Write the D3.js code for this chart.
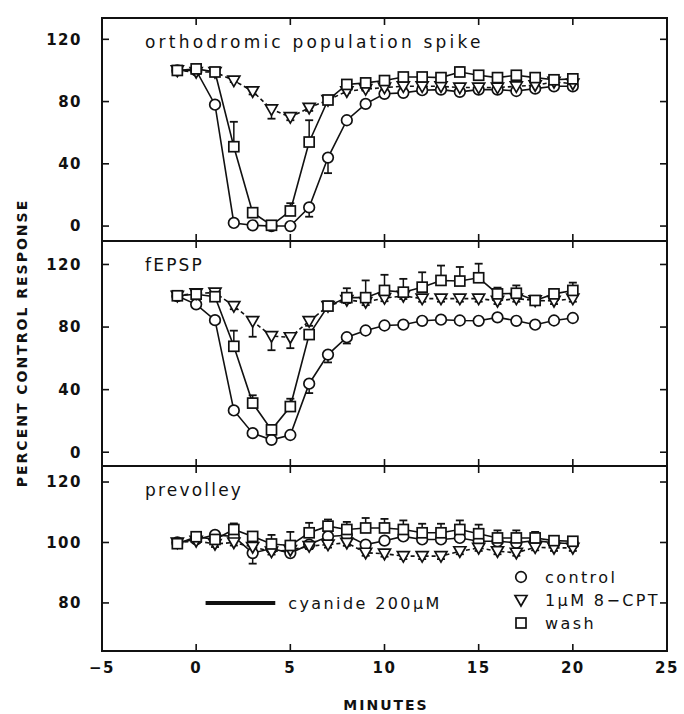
<!DOCTYPE html>
<html>
<head>
<meta charset="utf-8">
<script src="https://cdn.jsdelivr.net/npm/d3@7/dist/d3.min.js"></script>
<style>
  body { margin: 0; background: #fff; }
  text { font-family: "DejaVu Sans", sans-serif; fill: #111; }
</style>
</head>
<body>
<svg id="chart" width="684" height="714"></svg>
<script>
// time points (minutes)
const minutes = [-1, 0, 1, 2, 3, 4, 5, 6, 7, 8, 9, 10, 11, 12, 13, 14, 15, 16, 17, 18, 19, 20];
const seriesNames = ['control', '1\u03BCM 8\u2212CPT', 'wash'];

// orthodromic population spike
const spikeControl = [100, 100, 78, 2, 0.5, 0, 0, 12, 44, 68, 78.5, 85, 85.6, 87.3, 87.7, 86.2, 87.7, 87.7, 86.8, 88.3, 89.8, 89.8];
const spikeCPT     = [100, 99, 99, 93.5, 86.6, 75, 70, 76, 81, 86.6, 88, 89, 89.8, 89.8, 89.8, 89, 89, 89, 89.8, 90.5, 92.6, 91.5];
const spikeWash    = [100, 101, 99, 51, 8.6, 0.5, 9.7, 54, 81, 91, 92, 93.5, 95.8, 95.8, 95.4, 99, 96.9, 95.4, 96.9, 95.4, 94, 94.6];
const spikeControlErr = [0, 0, 1, 1, 0, 0, 0, 6, 10, 2, 1, 1, 1, 1, 1, 1, 1, 1, 1, 1, 1, 1];
const spikeCPTErr     = [0, 1, 1, 1, 2, 6, 2, 2, 1, 1, 1, 1, 1, 1, 1, 1, 1, 1, 1, 1, 1, 1];
const spikeWashErr    = [0, 1, 1, 16, 2, 1, 5, 14, 2, 2, 1, 1, 2, 2, 2, 3, 2, 2, 2, 2, 2, 2];

// fEPSP
const epspControl = [99.8, 94.5, 84.4, 26.7, 12.2, 7.9, 11, 43.8, 62.4, 73.5, 77.8, 81, 81.5, 84, 84.7, 84.2, 84, 86.2, 84, 81.5, 84.2, 85.8];
const epspCPT     = [100, 101.5, 102, 93.4, 83.8, 74.2, 73.5, 83.8, 93.4, 97.3, 96, 98.5, 99.9, 98.2, 98.2, 98.2, 98.2, 96.7, 98.2, 97, 96.7, 98.2];
const epspWash    = [100, 101, 99.4, 67.7, 31.4, 14.3, 29.2, 75.2, 93.4, 98.8, 98.8, 103.4, 102.3, 105.5, 109.8, 109.4, 111.5, 101.2, 101.6, 97, 101.2, 103.4];
const epspControlErr = [0, 1, 1, 1, 1, 1, 1, 6, 5, 4, 1, 1, 1, 1, 1, 1, 1, 1, 1, 1, 1, 1];
const epspCPTErr     = [0, 1, 2, 2, 10, 9, 7, 3, 2, 2, 2, 2, 2, 2, 2, 2, 2, 2, 2, 2, 2, 2];
const epspWashErr    = [0, 2, 3, 10, 5, 2, 5, 3, 2, 6, 11, 10, 8.5, 9.5, 9.5, 9, 9, 4, 5, 2, 3, 5];

// prevolley
const volleyControl = [100, 101, 102.5, 102, 96.5, 98, 96.5, 99.3, 102, 102.4, 99.3, 100.6, 102, 101, 101, 101.5, 100.4, 100.4, 99.9, 100.6, 99.9, 99.6];
const volleyCPT     = [100, 100.5, 99.5, 100, 98.5, 97, 97.5, 98.8, 99.3, 99.9, 96.6, 96.3, 95.5, 95.5, 95.5, 97.1, 98.2, 97.1, 96.6, 98.4, 98.2, 98.2];
const volleyWash    = [99.6, 101.9, 101, 104.3, 102, 99.5, 99, 103.2, 105.4, 104.3, 104.8, 104.8, 104.3, 103.2, 103.2, 104.3, 102.9, 101.5, 101.5, 101.5, 100.6, 100.4];
const volleyControlErr = [0, 0.5, 1, 1, 3.5, 1, 1, 1, 1, 1, 1, 1, 1, 1, 1, 1, 1, 1, 1, 1, 1, 1];
const volleyCPTErr     = [0, 0.5, 1, 1, 1, 1, 1, 1, 1, 1, 1, 1, 1, 1, 1, 1, 1, 1, 1, 1, 1, 1];
const volleyWashErr    = [0, 0.5, 1, 2, 1.5, 3, 4.5, 3.3, 2.2, 2.5, 3.3, 3, 3, 3, 3, 3, 3, 2.5, 2.5, 2, 1.5, 1];

const xTicks = [-5, 0, 5, 10, 15, 20, 25];
const cyanide = [0.5, 4.2];   // bar drawn in lower panel
const cyanideLevel = 80;

const panels = [
  { label: 'orthodromic population spike', top: 18, bottom: 241, domain: [-9.6, 133.7], ticks: [0, 40, 80, 120],
    data: [spikeControl, spikeCPT, spikeWash], err: [spikeControlErr, spikeCPTErr, spikeWashErr] },
  { label: 'fEPSP', top: 241, bottom: 466, domain: [-8.8, 135], ticks: [0, 40, 80, 120],
    data: [epspControl, epspCPT, epspWash], err: [epspControlErr, epspCPTErr, epspWashErr] },
  { label: 'prevolley', top: 466, bottom: 651, domain: [64.1, 125.3], ticks: [80, 100, 120],
    data: [volleyControl, volleyCPT, volleyWash], err: [volleyControlErr, volleyCPTErr, volleyWashErr] }
];

const svg = d3.select('#chart');
const x = d3.scaleLinear().domain([-5, 25]).range([102, 667]);
const tickLen = 7;
const errDir = [-1, -1, 1];   // control & CPT bars below, wash above
const dashes = [null, '4,3', null];

function marker(g, kind) {
  if (kind === 0) {
    g.append('circle').attr('r', 5.3);
  } else if (kind === 1) {
    g.append('path').attr('d', 'M-6,-4.5L6,-4.5L0,6Z');
  } else {
    g.append('rect').attr('x', -5).attr('y', -5).attr('width', 10).attr('height', 10);
  }
}

panels.forEach((p, pi) => {
  const y = d3.scaleLinear().domain(p.domain).range([p.bottom, p.top]);
  const g = svg.append('g');

  // frame
  g.append('rect')
    .attr('x', x.range()[0]).attr('y', p.top)
    .attr('width', x.range()[1] - x.range()[0]).attr('height', p.bottom - p.top)
    .attr('fill', 'none').attr('stroke', '#111').attr('stroke-width', 2);

  // y ticks, left and right, inward
  p.ticks.forEach(t => {
    g.append('line').attr('x1', x(-5)).attr('x2', x(-5) + tickLen).attr('y1', y(t)).attr('y2', y(t))
      .attr('stroke', '#111').attr('stroke-width', 1.6);
    g.append('line').attr('x1', x(25)).attr('x2', x(25) - tickLen).attr('y1', y(t)).attr('y2', y(t))
      .attr('stroke', '#111').attr('stroke-width', 1.6);
    g.append('text').attr('x', 82).attr('y', y(t)).attr('dy', '0.36em')
      .attr('text-anchor', 'end').attr('font-size', 15).attr('font-weight', 'bold')
      .attr('letter-spacing', 1.5).text(t);
  });

  // x ticks, top and bottom, inward
  xTicks.slice(1, -1).forEach(t => {
    g.append('line').attr('x1', x(t)).attr('x2', x(t)).attr('y1', p.top).attr('y2', p.top + tickLen)
      .attr('stroke', '#111').attr('stroke-width', 1.6);
    g.append('line').attr('x1', x(t)).attr('x2', x(t)).attr('y1', p.bottom).attr('y2', p.bottom - tickLen)
      .attr('stroke', '#111').attr('stroke-width', 1.6);
  });

  g.append('text').attr('x', 145).attr('y', p.top + 30)
    .attr('font-size', 17).attr('letter-spacing', pi === 0 ? 3.2 : 2.2).text(p.label);

  // lines
  const line = d3.line().x((d, i) => x(minutes[i])).y(d => y(d));
  p.data.forEach((vals, si) => {
    g.append('path').datum(vals).attr('d', line)
      .attr('fill', 'none').attr('stroke', '#111').attr('stroke-width', 1.6)
      .attr('stroke-dasharray', dashes[si]);
  });

  // error bars
  p.data.forEach((vals, si) => {
    vals.forEach((v, i) => {
      const e = p.err[si][i];
      if (!e) return;
      const y2 = y(v + errDir[si] * e);
      g.append('line').attr('x1', x(minutes[i])).attr('x2', x(minutes[i]))
        .attr('y1', y(v)).attr('y2', y2).attr('stroke', '#111').attr('stroke-width', 1.5);
      g.append('line').attr('x1', x(minutes[i]) - 4).attr('x2', x(minutes[i]) + 4)
        .attr('y1', y2).attr('y2', y2).attr('stroke', '#111').attr('stroke-width', 1.8);
    });
  });

  // markers
  p.data.forEach((vals, si) => {
    vals.forEach((v, i) => {
      const m = g.append('g').attr('transform', `translate(${x(minutes[i])},${y(v)})`)
        .attr('fill', '#fff').attr('stroke', '#111').attr('stroke-width', 1.7);
      marker(m, si);
    });
  });

  if (pi === 2) {
    // cyanide bar
    g.append('line').attr('x1', x(cyanide[0])).attr('x2', x(cyanide[1]))
      .attr('y1', y(cyanideLevel)).attr('y2', y(cyanideLevel))
      .attr('stroke', '#111').attr('stroke-width', 4);
    g.append('text').attr('x', x(cyanide[1]) + 13).attr('y', y(cyanideLevel)).attr('dy', '0.36em')
      .attr('font-size', 16).attr('letter-spacing', 2.4).text('cyanide 200\u03BCM');

    // legend
    seriesNames.forEach((name, si) => {
      const ly = 577 + si * 23;
      const m = svg.append('g').attr('transform', `translate(521,${ly})`)
        .attr('fill', '#fff').attr('stroke', '#111').attr('stroke-width', 1.7);
      marker(m, si);
      svg.append('text').attr('x', 545).attr('y', ly).attr('dy', '0.36em')
        .attr('font-size', 16).attr('letter-spacing', 2.4).text(name);
    });
  }
});

// x tick labels
xTicks.forEach(t => {
  svg.append('text').attr('x', x(t)).attr('y', 668).attr('dy', '0.36em')
    .attr('text-anchor', 'middle').attr('font-size', 15).attr('font-weight', 'bold')
    .attr('letter-spacing', 1.5).text(t < 0 ? '\u2212' + Math.abs(t) : t);
});

svg.append('text').attr('x', 386).attr('y', 705).attr('dy', '0.36em')
  .attr('text-anchor', 'middle').attr('font-size', 14).attr('font-weight', 'bold')
  .attr('letter-spacing', 2).text('MINUTES');

svg.append('text').attr('transform', 'translate(22,343) rotate(-90)')
  .attr('dy', '0.36em').attr('text-anchor', 'middle').attr('font-size', 14)
  .attr('font-weight', 'bold').attr('letter-spacing', 2).text('PERCENT CONTROL RESPONSE');
</script>
</body>
</html>
